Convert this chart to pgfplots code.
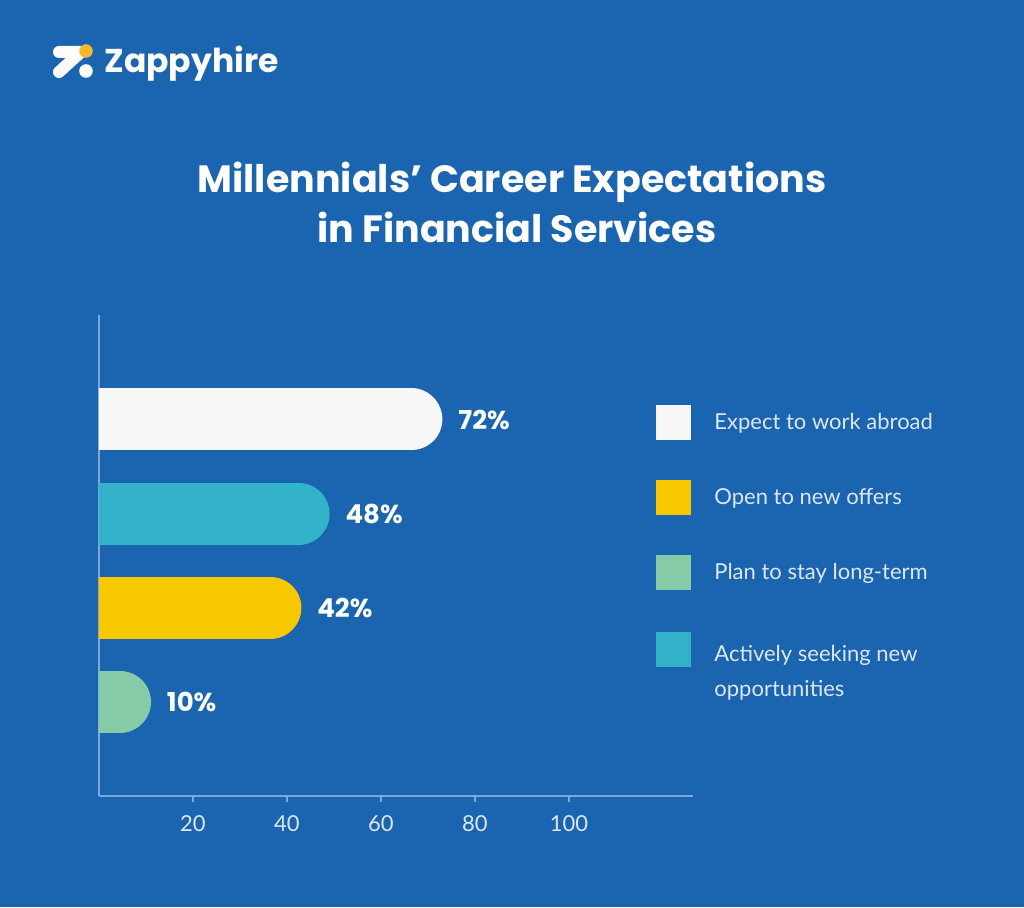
\documentclass[border=0pt]{standalone}
\usepackage{fontspec}
\usepackage{pgfplots}
\pgfplotsset{compat=1.18}
\setmainfont{Lato}
\newfontfamily\pop{Poppins}
\definecolor{bg}{HTML}{1A64B0}
\definecolor{cwhite}{HTML}{F7F7F7}
\definecolor{cteal}{HTML}{33B3C9}
\definecolor{cyellow}{HTML}{F7C800}
\definecolor{cgreen}{HTML}{85CBA8}
\definecolor{axisc}{HTML}{7FA6D8}
\definecolor{tickc}{HTML}{DDE7F4}
\definecolor{logoy}{HTML}{F5B82E}
\begin{document}
\begin{tikzpicture}[x=1pt,y=1pt]
\useasboundingbox (0,0) rectangle (512,453.5);
\fill[bg] (0,0) rectangle (512,453.5);
% logo
\draw[white, line width=6pt, line cap=round, line join=round] (29.5,427.5) -- (40.5,427.5) -- (29.5,417.5);
\fill[white] (43,418) circle (3.4);
\fill[logoy] (43,428) circle (3.4);
\node[anchor=west, font=\pop\bfseries\fontsize{16.5}{18}\selectfont, text=white, inner sep=0] at (52,421.5) {Zappyhire};
% title
\node[align=center, font=\pop\bfseries\fontsize{19}{25}\selectfont, text=white] at (256,352.5) {Millennials’ Career Expectations\\\hspace*{5pt}in Financial Services};
\begin{axis}[
  at={(49.5pt,55.5pt)}, anchor=south west, scale only axis,
  width=297pt, height=240.5pt,
  xmin=0, xmax=126.4, ymin=0, ymax=5.11,
  axis x line=bottom, axis y line=left,
  axis line style={axisc, line width=0.8pt, -},
  ytick=\empty, xtick={20,40,60,80,100},
  tick align=outside, major tick length=3pt,
  tick style={axisc, line width=0.8pt},
  xticklabel style={text=tickc, font=\fontsize{11}{13}\selectfont, yshift=-3pt},
  /pgf/number format/assume math mode=true,
  nodes near coords, point meta=explicit symbolic,
  every node near coord/.style={anchor=west, xshift=10.5pt, inner sep=0pt, outer sep=0pt, text=white, font=\pop\bfseries\fontsize{13}{16}\selectfont},
  legend image code/.code={\fill[#1, draw=none, shorten >=0pt] (0pt,-8.75pt) rectangle (17.5pt,8.75pt);},
  legend cell align=left,
  legend style={at={(0.9377,0.8129)}, anchor=north west, draw=none, fill=none, inner sep=0pt,
    text=tickc, font=\fontsize{11}{17.5}\selectfont, row sep=20pt,
    cells={outer sep=0pt},
    /tikz/every odd column/.append style={column sep=9.5pt}},
]
\addplot[draw=cwhite, fill=cwhite, line width=31pt, line cap=round, shorten >=13pt, mark=none] coordinates {(0,4) [] (72,4) [72\%]};
\addplot[draw=cyellow, fill=cyellow, line width=31pt, line cap=round, shorten >=13pt, mark=none] coordinates {(0,2) [] (42,2) [42\%]};
\addplot[draw=cgreen, fill=cgreen, line width=31pt, line cap=round, shorten >=13pt, mark=none] coordinates {(0,1) [] (10,1) [10\%]};
\addplot[draw=cteal, fill=cteal, line width=31pt, line cap=round, shorten >=13pt, mark=none] coordinates {(0,3) [] (48,3) [48\%]};
\legend{Expect to work abroad, Open to new offers, Plan to stay long-term, {\begin{tabular}[t]{@{}l@{}}\rule{0pt}{13.5pt}Actively seeking new\\opportunities\end{tabular}}}
\end{axis}
\end{tikzpicture}
\end{document}
